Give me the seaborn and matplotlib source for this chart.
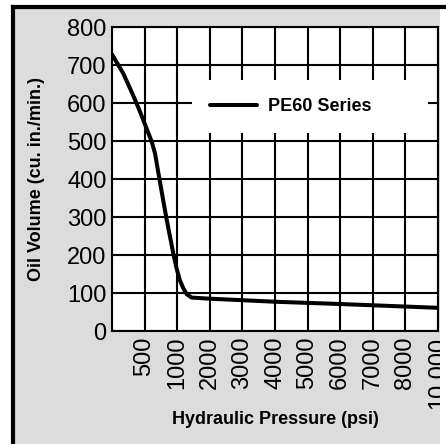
import numpy as np
import pandas as pd
import matplotlib
matplotlib.use("Agg")
import matplotlib.pyplot as plt
import seaborn as sns
from matplotlib.patches import Rectangle
from matplotlib.lines import Line2D

# Tick pressures (psi) - evenly spaced on the chart even though values are not
TICK_PSI = [0, 500, 1000, 2000, 3000, 4000, 5000, 6000, 7000, 8000, 10000]
TICK_LABELS = ["", "500", "1000", "2000", "3000", "4000", "5000",
               "6000", "7000", "8000", "10,000"]

# PE60 curve
pressure = [0, 175, 325, 430, 530, 610, 660, 695, 735, 785, 840, 890,
            940, 990, 1080, 1190, 1290, 1440, 2000, 4000, 6000, 10000]
volume = [728, 677, 620, 577, 533, 498, 467, 432, 393, 344, 292, 248,
          204, 165, 134, 112, 97, 88, 85, 77, 71, 61]

Y_TICKS = list(range(0, 801, 100))

BG = "#dcdcdd"

sns.set_style("white")
plt.rcParams["font.family"] = ["Liberation Sans", "DejaVu Sans"]
plt.rcParams["text.color"] = "black"
plt.rcParams["axes.labelcolor"] = "black"
plt.rcParams["xtick.color"] = "black"
plt.rcParams["ytick.color"] = "black"

df = pd.DataFrame({"Pressure": pressure, "Volume": volume, "Series": "PE60 Series"})

pos = np.arange(len(TICK_PSI), dtype=float)


def fwd(x):
    return np.interp(x, TICK_PSI, pos)


def inv(p):
    return np.interp(p, pos, TICK_PSI)


fig = plt.figure(figsize=(4.46, 4.44), dpi=100)
fig.patch.set_facecolor("white")

# gray panel with black frame on top/left (cropped on the other sides)
fig.add_artist(Rectangle((11 / 446, 0), 1, 1 - 5 / 444, transform=fig.transFigure,
                         facecolor=BG, edgecolor="none", zorder=0))
fig.add_artist(Rectangle((440 / 446, 0), 1, 1 - 9 / 444, transform=fig.transFigure,
                         facecolor="white", edgecolor="none", zorder=0.5))
fig.add_artist(Line2D([13 / 446, 13 / 446], [0, 1 - 7 / 444], transform=fig.transFigure,
                      color="black", lw=3, solid_capstyle="projecting", zorder=1))
fig.add_artist(Line2D([13 / 446, 1], [1 - 7 / 444, 1 - 7 / 444], transform=fig.transFigure,
                      color="black", lw=3, solid_capstyle="projecting", zorder=1))

ax = fig.add_axes([112 / 446, 113 / 444, 326 / 446, 304 / 444])
ax.set_facecolor("white")
ax.set_xscale("function", functions=(fwd, inv))

sns.lineplot(data=df, x="Pressure", y="Volume", hue="Series", palette=["black"],
             lw=2.9, ax=ax, zorder=3)

ax.set_xlim(0, 10000)
ax.set_ylim(0, 800)
ax.set_xticks(TICK_PSI)
ax.set_xticklabels(TICK_LABELS, rotation=90, fontsize=17)
ax.set_yticks(Y_TICKS)
ax.set_yticklabels([str(v) for v in Y_TICKS], fontsize=17)
ax.minorticks_off()
ax.tick_params(length=0, pad=4, labelcolor="black")
ax.grid(True, which="major", color="black", lw=1.5)
ax.set_axisbelow(True)
for s in ax.spines.values():
    s.set_color("black")
    s.set_linewidth(1.5)

label_font = ["Liberation Sans Narrow", "Liberation Sans", "DejaVu Sans"]
ax.set_xlabel("Hydraulic Pressure (psi)", fontsize=13, fontweight="bold",
              family=label_font, labelpad=2, color="black")
ax.set_ylabel("Oil Volume (cu. in./min.)", fontsize=13, fontweight="bold",
              family=label_font, labelpad=16, color="black")

leg = ax.legend(loc="lower left", bbox_to_anchor=(0.245, 0.651, 0.724, 0.178),
                mode="expand", borderaxespad=0, frameon=True, fancybox=False,
                prop={"size": 13, "weight": "bold"}, handlelength=2.6,
                borderpad=1.0, handletextpad=0.6, labelcolor="black")
leg.get_frame().set_facecolor("white")
leg.get_frame().set_edgecolor("none")
leg.get_frame().set_alpha(1)
leg.set_title(None)

fig.savefig("out.png", dpi=100, facecolor=fig.get_facecolor())
